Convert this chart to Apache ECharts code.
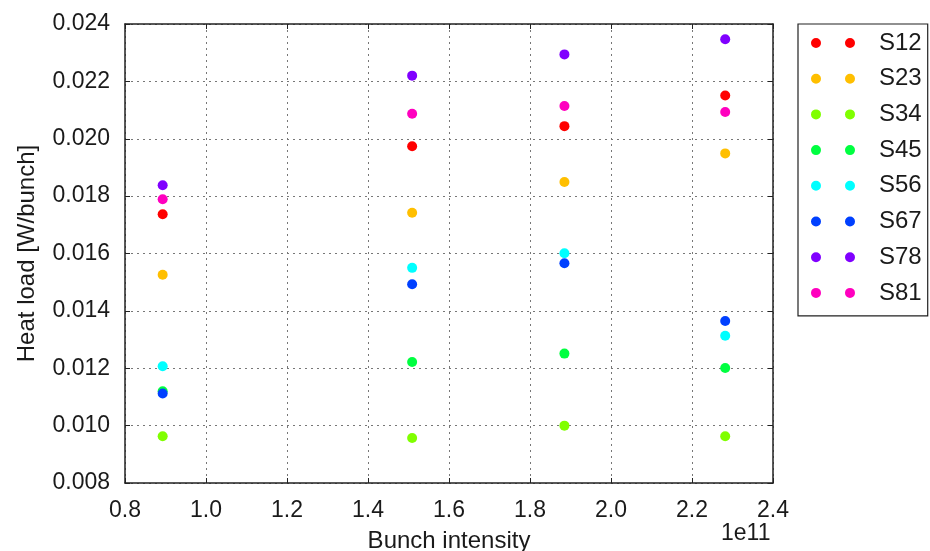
<!DOCTYPE html>
<html>
<head>
<meta charset="utf-8">
<script src="https://cdn.jsdelivr.net/npm/echarts@6/dist/echarts.min.js"></script>
<style>
html, body { margin: 0; padding: 0; background: #fff; }
#chart_container { width: 930px; height: 551px; }
</style>
</head>
<body>
<div id="chart_container"></div>
<script>
// bunch intensity, units of 1e11
var intensity = [0.893, 1.509, 1.885, 2.282];

var sectors = ['S12', 'S23', 'S34', 'S45', 'S56', 'S67', 'S78', 'S81'];
var colors = ['#ff0000', '#ffbf00', '#80ff00', '#00ff40', '#00ffff', '#0040ff', '#8000ff', '#ff00bf'];

// heat load [W/bunch] per sector
var s12 = [0.01737, 0.01974, 0.02044, 0.02151];
var s23 = [0.01526, 0.01742, 0.01849, 0.01949];
var s34 = [0.00963, 0.00957, 0.01000, 0.00963];
var s45 = [0.01120, 0.01222, 0.01251, 0.01201];
var s56 = [0.01207, 0.01550, 0.01601, 0.01313];
var s67 = [0.01112, 0.01493, 0.01566, 0.01365];
var s78 = [0.01838, 0.02220, 0.02294, 0.02347];
var s81 = [0.01789, 0.02087, 0.02114, 0.02093];
var loads = [s12, s23, s34, s45, s56, s67, s78, s81];

var font = '"Liberation Sans", Arial, sans-serif';
var twoDots = 'path://M0,5A5,5 0 1,0 10,5A5,5 0 1,0 0,5Z M34,5A5,5 0 1,0 44,5A5,5 0 1,0 34,5Z';

var dom = document.getElementById("chart_container");
var myChart = echarts.init(dom);

var series_list = [];
for (var i = 0; i < sectors.length; i++) {
    var pts = [];
    for (var j = 0; j < intensity.length; j++) {
        pts.push([intensity[j], loads[i][j]]);
    }
    series_list.push({
        name: sectors[i],
        type: 'scatter',
        symbol: 'circle',
        symbolSize: 10,
        itemStyle: { color: colors[i], opacity: 1 },
        emphasis: { disabled: true },
        data: pts
    });
}

var gridLine = { show: true, lineStyle: { color: '#777', type: [2, 4], width: 1 } };
var axLine = { show: true, lineStyle: { color: '#222', width: 1.5 } };
var tick = { show: true, inside: true, length: 5, lineStyle: { color: '#222', width: 1 } };

var option = {
    animation: false,
    grid: { left: 125, right: 157, top: 24, bottom: 68, containLabel: false, outerBoundsMode: 'none' },
    xAxis: [{
        type: 'value', min: 0.8, max: 2.4, interval: 0.2,
        name: 'Bunch intensity', nameLocation: 'middle', nameGap: 46,
        nameTextStyle: { fontFamily: font, fontSize: 24, color: '#1a1a1a' },
        axisLine: axLine, axisTick: tick, splitLine: gridLine,
        axisLabel: { fontFamily: font, fontSize: 23, color: '#1a1a1a', margin: 16,
            formatter: function (v) { return v.toFixed(1); } }
    }, {
        type: 'value', position: 'top', min: 0.8, max: 2.4, interval: 0.2,
        axisLine: axLine, axisTick: tick, splitLine: { show: false }, axisLabel: { show: false }
    }],
    yAxis: [{
        type: 'value', min: 0.008, max: 0.024, interval: 0.002,
        name: 'Heat load [W/bunch]', nameLocation: 'middle', nameGap: 86,
        nameTextStyle: { fontFamily: font, fontSize: 24, color: '#1a1a1a' },
        axisLine: axLine, axisTick: tick, splitLine: gridLine,
        axisLabel: { fontFamily: font, fontSize: 23, color: '#1a1a1a', margin: 15,
            formatter: function (v) { return v.toFixed(3); } }
    }, {
        type: 'value', position: 'right', min: 0.008, max: 0.024, interval: 0.002,
        axisLine: axLine, axisTick: tick, splitLine: { show: false }, axisLabel: { show: false }
    }],
    legend: {
        orient: 'vertical',
        left: 798, top: 24,
        padding: [7, 6, 11, 13],
        borderColor: '#222', borderWidth: 1.2, borderRadius: 0,
        backgroundColor: '#fff',
        itemWidth: 44, itemHeight: 10, itemGap: 11.7,
        icon: twoDots,
        textStyle: { fontFamily: font, fontSize: 24, color: '#1a1a1a', padding: [0, 0, 0, 19] },
        data: sectors
    },
    graphic: [{
        type: 'text', left: 721, top: 522,
        style: { text: '1e11', font: '23px ' + font, fill: '#1a1a1a' }
    }],
    series: series_list
};

myChart.setOption(option, true);
</script>
</body>
</html>
